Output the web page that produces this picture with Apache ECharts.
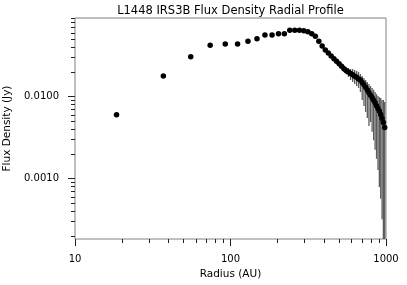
<!DOCTYPE html>
<html><head><meta charset="utf-8">
<script src="https://cdn.jsdelivr.net/npm/echarts@6/dist/echarts.min.js"></script>
<style>html,body{margin:0;padding:0;background:#fff}#c{width:407px;height:285px}</style>
</head><body><div id="c"></div>
<script>
// ---- data ----
const radii = [18.5, 37, 55.5, 74, 92.5, 111, 129.5, 148, 166.5, 185,
  203.5, 222, 240.5, 259, 277.5, 296, 314.5, 333, 351.5, 370,
  388.5, 407, 425.5, 444, 462.5, 481, 499.5, 518, 536.5, 555,
  573.5, 592, 610.5, 629, 647.5, 666, 684.5, 703, 721.5, 740,
  758.5, 777, 795.5, 814, 832.5, 851, 869.5, 888, 906.5, 925,
  943.5, 962, 980.5];
const flux = [0.00603, 0.0179, 0.0308, 0.0424, 0.0439, 0.0439, 0.0474, 0.0510, 0.0565, 0.0565,
  0.0587, 0.0587, 0.0645, 0.0645, 0.0645, 0.0637, 0.0620, 0.0587, 0.0545, 0.0474,
  0.0416, 0.0371, 0.0341, 0.0314, 0.0291, 0.0270, 0.0252, 0.0235, 0.0220, 0.0208,
  0.0200, 0.0192, 0.0185, 0.0178, 0.0173, 0.0165, 0.0160, 0.0149, 0.0140, 0.0130,
  0.0121, 0.0112, 0.0104, 0.00975, 0.00904, 0.00845, 0.00775, 0.00718, 0.00669, 0.00607,
  0.00542, 0.00484, 0.00421];
const errUp = [0.0001, 0.0003, 0.0005, 0.0006, 0.0006, 0.0006, 0.0007, 0.0007, 0.0008, 0.0008,
  0.0008, 0.0008, 0.0009, 0.0009, 0.0009, 0.0009, 0.0009, 0.0009, 0.0009, 0.0009,
  0.0010, 0.0011, 0.0012, 0.0013, 0.0014, 0.0015, 0.0016, 0.0018, 0.0020, 0.0022,
  0.0024, 0.0026, 0.0033, 0.0034, 0.0033, 0.0035, 0.0029, 0.0030, 0.0029, 0.0030,
  0.0030, 0.0031, 0.0031, 0.0030, 0.0031, 0.0030, 0.0030, 0.0030, 0.0032, 0.0036,
  0.0037, 0.0043, 0.0044];
const errDown = [0.0001, 0.0003, 0.0005, 0.0006, 0.0006, 0.0006, 0.0007, 0.0007, 0.0008, 0.0008,
  0.0008, 0.0008, 0.0009, 0.0009, 0.0009, 0.0009, 0.0009, 0.0009, 0.0009, 0.0009,
  0.0010, 0.0011, 0.0012, 0.0013, 0.0014, 0.0015, 0.0016, 0.0018, 0.0020, 0.0020,
  0.0026, 0.0032, 0.0034, 0.0035, 0.0038, 0.0037, 0.0046, 0.0058, 0.0063, 0.0065,
  0.0066, 0.0068, 0.0055, 0.0060, 0.0061, 0.0062, 0.0060, 0.0059, 0.0059, 0.0055,
  0.0051, 0.0060, 0.0060];
const xMajorTicks = [10, 100, 1000];
const xMinorTicks = [20, 30, 40, 50, 60, 70, 80, 90, 200, 300, 400, 500, 600, 700, 800, 900];
const yMajorTicks = [0.001, 0.01];
const yMinorTicks = [0.0002, 0.0003, 0.0004, 0.0005, 0.0006, 0.0007, 0.0008, 0.0009,
  0.002, 0.003, 0.004, 0.005, 0.006, 0.007, 0.008, 0.009,
  0.02, 0.03, 0.04, 0.05, 0.06, 0.07, 0.08, 0.09];
const X_MIN = 10, X_MAX = 1000, Y_MIN = 1.84e-4, Y_MAX = 0.0912;

// ---- chart ----
const FONT = 'DejaVu Sans';
const chart = echarts.init(document.getElementById('c'), null, {renderer: 'canvas'});
const points = radii.map((r, i) => [r, flux[i]]);
const bars = radii.map((r, i) => [r, Math.max(flux[i] - errDown[i], Y_MIN), Math.min(flux[i] + errUp[i], Y_MAX)]);
const tickColor = '#222';

function makeX(ticks, len, major) {
  const a = {
    type: 'log', logBase: 10, min: X_MIN, max: X_MAX, position: 'bottom', gridIndex: 0,
    axisLine: {show: false}, splitLine: {show: false}, minorTick: {show: false},
    axisTick: {show: true, inside: false, length: len, customValues: ticks, lineStyle: {color: tickColor, width: 1}},
    axisLabel: major ? {customValues: ticks, formatter: v => String(v), margin: 15, color: '#000', fontFamily: FONT, fontSize: 10} : {show: false}
  };
  if (major) {
    a.name = 'Radius (AU)'; a.nameLocation = 'middle'; a.nameGap = 28;
    a.nameTextStyle = {color: '#000', fontFamily: FONT, fontSize: 10.5};
  }
  return a;
}
function makeY(ticks, len, major) {
  const a = {
    type: 'log', logBase: 10, min: Y_MIN, max: Y_MAX, position: 'left', gridIndex: 0,
    axisLine: {show: false}, splitLine: {show: false}, minorTick: {show: false},
    axisTick: {show: true, inside: false, length: len, customValues: ticks, lineStyle: {color: tickColor, width: 1}},
    axisLabel: major ? {customValues: ticks, formatter: v => Number(v).toFixed(4), margin: 16, color: '#000', fontFamily: FONT, fontSize: 10} : {show: false}
  };
  if (major) {
    a.name = 'Flux Density (Jy)'; a.nameLocation = 'middle'; a.nameRotate = 90; a.nameGap = 46;
    a.nameTextStyle = {color: '#000', fontFamily: FONT, fontSize: 10.5};
  }
  return a;
}

chart.setOption({
  animation: false,
  backgroundColor: '#fff',
  graphic: [{type: 'text', x: 230.5, y: 11, style: {text: 'L1448 IRS3B Flux Density Radial Profile', fill: '#000', font: '11.5px "DejaVu Sans"', textAlign: 'center', textVerticalAlign: 'middle'}}],
  grid: {left: 75, right: 21, top: 18, bottom: 46, show: true, borderColor: '#808080', borderWidth: 1, backgroundColor: 'transparent', containLabel: false, outerBoundsMode: 'none'},
  xAxis: [makeX(xMajorTicks, 7, true), makeX(xMinorTicks, 4, false)],
  yAxis: [makeY(yMajorTicks, 7, true), makeY(yMinorTicks, 4, false)],
  series: [
    {
      type: 'custom', xAxisIndex: 0, yAxisIndex: 0, z: 2, clip: true,
      encode: {x: 0, y: [1, 2]},
      data: bars,
      renderItem: (params, api) => {
        const x = api.value(0), lo = api.value(1), hi = api.value(2);
        const p1 = api.coord([x, hi]);
        const p2 = api.coord([x, lo]);
        return {type: 'line', shape: {x1: p1[0], y1: p1[1], x2: p2[0], y2: p2[1]},
          style: {stroke: '#5a5a5a', lineWidth: 1.3}};
      }
    },
    {
      type: 'scatter', xAxisIndex: 0, yAxisIndex: 0, z: 3,
      symbol: 'circle', symbolSize: 5.5,
      itemStyle: {color: '#000', opacity: 1},
      data: points
    }
  ]
});
</script>
</body></html>
